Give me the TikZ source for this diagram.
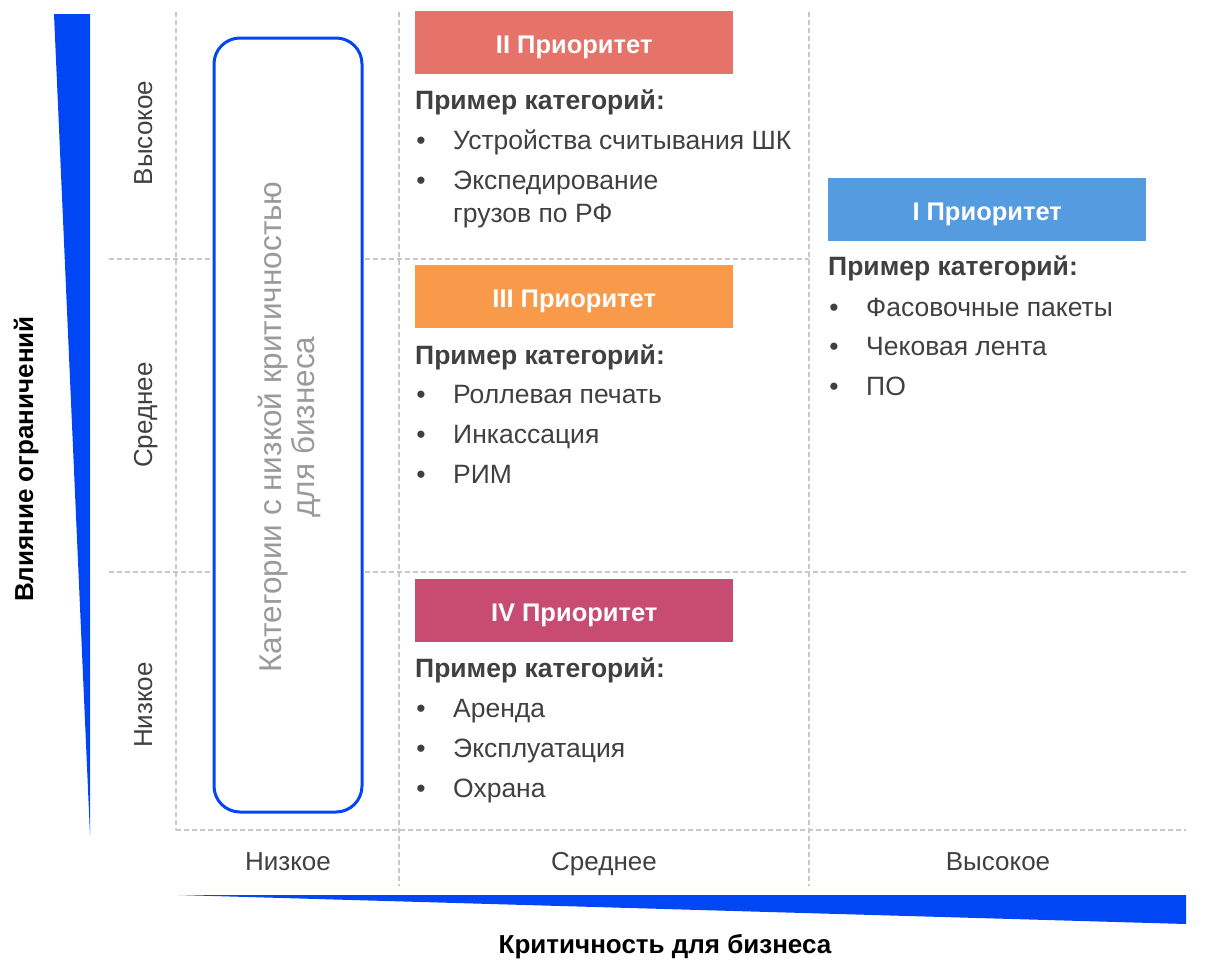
\documentclass[tikz,border=0pt]{standalone}
\usepackage{fontspec}
\setmainfont{Liberation Sans}
\definecolor{wedge}{HTML}{0046F5}
\definecolor{gridc}{HTML}{C8C8C8}
\definecolor{txt}{HTML}{404040}
\definecolor{c1}{HTML}{559BDF}
\definecolor{c2}{HTML}{E5736A}
\definecolor{c3}{HTML}{F99A4A}
\definecolor{c4}{HTML}{C84B74}
\definecolor{lowtxt}{HTML}{9A9A9A}
\tikzset{
  gridline/.style={draw=gridc, line width=1.3pt, dash pattern=on 5pt off 3pt},
  prio/.style={fill=#1, minimum width=318pt, minimum height=63pt, anchor=north west, inner sep=0pt, text=white, text height=21pt, text depth=0pt, font=\bfseries\fontsize{25.5}{30}\selectfont},
  head/.style={anchor=base west, inner sep=0pt, text=txt, font=\bfseries\fontsize{26.5}{32}\selectfont},
  item/.style={anchor=base west, inner sep=0pt, text=txt, font=\fontsize{26.5}{33}\selectfont, align=left},
  bul/.style={anchor=base, inner sep=0pt, text=txt, font=\fontsize{26.5}{32}\selectfont},
  axlab/.style={anchor=base, inner sep=0pt, text=txt, font=\fontsize{26}{31}\selectfont},
  axtitle/.style={anchor=base, inner sep=0pt, text=black, font=\bfseries\fontsize{26}{31}\selectfont},
  lowlab/.style={anchor=base, rotate=90, inner sep=0pt, text=lowtxt, font=\fontsize{31.5}{34}\selectfont},
}
\begin{document}
\begin{tikzpicture}[x=1pt,y=-1pt]
\useasboundingbox (0,0) rectangle (1216,959);
% wedges
\fill[wedge] (54,14) -- (90,14) -- (90,835) -- cycle;
\fill[wedge] (178,895) -- (1186,895) -- (1186,924) -- cycle;
% grid
\coordinate (v1t) at (176,12); \coordinate (v1b) at (176,830);
\coordinate (v2t) at (399,12); \coordinate (v2b) at (399,886);
\coordinate (v3t) at (809,12); \coordinate (v3b) at (809,886);
\coordinate (h1l) at (109,259); \coordinate (h1r) at (809,259);
\coordinate (h2l) at (109,572); \coordinate (h2r) at (1186,572);
\coordinate (h3l) at (176,830); \coordinate (h3r) at (1186,830);
\draw[gridline] (v1t) -- (v1b);
\draw[gridline] (v2t) -- (v2b);
\draw[gridline] (v3t) -- (v3b);
\draw[gridline] (h1l) -- (h1r);
\draw[gridline] (h2l) -- (h2r);
\draw[gridline] (h3l) -- (h3r);
% low criticality box
\draw[wedge, fill=white, line width=3pt, rounded corners=26pt] (214,38) rectangle (362,812);
\node[lowlab] (low1) at (281,427) {Категории с низкой критичностью};
\node[lowlab] (low2) at (314,427) {для бизнеса};
% row labels
\node[axlab, rotate=90] (rh) at (152,133) {Высокое};
\node[axlab, rotate=90] (rm) at (152,415) {Среднее};
\node[axlab, rotate=90] (rl) at (152,705) {Низкое};
% column labels
\node[axlab] (cl) at (288,870) {Низкое};
\node[axlab] (cm) at (604,870) {Среднее};
\node[axlab] (ch) at (998,870) {Высокое};
% axis titles
\node[axtitle, rotate=90] (ty) at (33,459) {Влияние ограничений};
\node[axtitle] (tx) at (665,953) {Критичность для бизнеса};
% II
\node[prio=c2] (p2) at (415,11) {II Приоритет};
\node[head] (h2) at (415,109) {Пример категорий:};
\node[bul] (b21) at (421,149) {•};
\node[item] (i21) at (453,149) {Устройства считывания ШК};
\node[bul] (b22) at (421,189) {•};
\node[item] (i22) at (453,189) {Экспедирование};
\node[item] (i22b) at (453,222) {грузов по РФ};
% III
\node[prio=c3] (p3) at (415,265) {III Приоритет};
\node[head] (h3) at (415,364) {Пример категорий:};
\node[bul] (b31) at (421,403) {•};
\node[item] (i31) at (453,403) {Роллевая печать};
\node[bul] (b32) at (421,443) {•};
\node[item] (i32) at (453,443) {Инкассация};
\node[bul] (b33) at (421,483) {•};
\node[item] (i33) at (453,483) {РИМ};
% IV
\node[prio=c4] (p4) at (415,579) {IV Приоритет};
\node[head] (h4) at (415,677) {Пример категорий:};
\node[bul] (b41) at (421,717) {•};
\node[item] (i41) at (453,717) {Аренда};
\node[bul] (b42) at (421,757) {•};
\node[item] (i42) at (453,757) {Эксплуатация};
\node[bul] (b43) at (421,797) {•};
\node[item] (i43) at (453,797) {Охрана};
% I
\node[prio=c1] (p1) at (828,178) {I Приоритет};
\node[head] (h1) at (828,275) {Пример категорий:};
\node[bul] (b11) at (834,316) {•};
\node[item] (i11) at (866,316) {Фасовочные пакеты};
\node[bul] (b12) at (834,355) {•};
\node[item] (i12) at (866,355) {Чековая лента};
\node[bul] (b13) at (834,395) {•};
\node[item] (i13) at (866,395) {ПО};
\end{tikzpicture}
\end{document}
